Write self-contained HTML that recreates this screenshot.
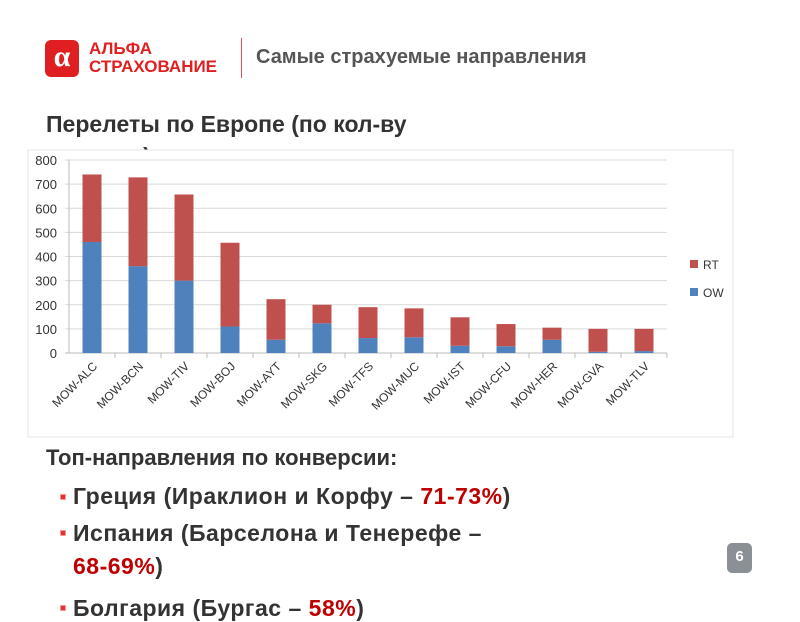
<!DOCTYPE html>
<html><head><meta charset="utf-8"><style>
body{margin:0;width:800px;height:600px;overflow:hidden;background:#fff;font-family:"Liberation Sans",sans-serif;position:relative}
.abs{position:absolute}
.txt{color:#333;font-weight:bold;white-space:nowrap}
.red{color:#c00000}
.bul{position:absolute;width:4px;height:4px;background:#d33;border:1px solid #f99}
</style></head><body>
<div class="abs" style="left:45px;top:40px">
 <div class="abs" style="left:0;top:0;width:34px;height:37px;background:#e02020;border-radius:6px;color:#fff;font:bold 30px 'Liberation Serif',serif;text-align:center;line-height:34px">α</div>
 <div class="abs" style="left:44px;top:0px;color:#e02020;font-size:17px;line-height:18px;font-weight:bold;white-space:nowrap">АЛЬФА<br>СТРАХОВАНИЕ</div>
</div>
<div class="abs" style="left:241px;top:38px;width:1px;height:40px;background:#e05050"></div>
<div class="abs txt" style="left:256px;top:46px;font-size:20px;color:#555">Самые страхуемые направления</div>
<div class="abs txt" style="left:46px;top:108px;font-size:23px;line-height:32px;white-space:normal;width:400px">Перелеты по Европе (по кол-ву полисов):</div>
<svg class="abs" style="left:0;top:0" width="800" height="600">
<rect x="28" y="150" width="705" height="287" fill="#fff" stroke="#e4e4e4"/>
<g id="g"></g>
<rect x="690" y="260" width="8" height="8" fill="#c0504d"/>
<text x="703" y="269" font-size="12" fill="#333">RT</text>
<rect x="690" y="288" width="8" height="8" fill="#4f81bd"/>
<text x="703" y="297" font-size="12" fill="#333">OW</text>
</svg>
<div class="abs txt" style="left:46px;top:445px;font-size:22px">Топ-направления по конверсии:</div>
<div class="bul" style="left:60px;top:494px"></div>
<div class="abs txt" style="left:73px;top:483px;font-size:23px;letter-spacing:0.5px">Греция (Ираклион и Корфу – <span class="red">71-73%</span>)</div>
<div class="bul" style="left:60px;top:530px"></div>
<div class="abs txt" style="left:73px;top:517px;font-size:23px;line-height:33px;letter-spacing:0.5px">Испания (Барселона и Тенерефе –<br><span class="red">68-69%</span>)</div>
<div class="bul" style="left:60px;top:605px"></div>
<div class="abs txt" style="left:73px;top:595px;font-size:23px;letter-spacing:0.5px">Болгария (Бургас – <span class="red">58%</span>)</div>
<div class="abs" style="left:727px;top:543px;width:25px;height:30px;background:#8a9096;border-radius:5px;color:#fff;font-weight:bold;font-size:15px;text-align:center;line-height:28px">6</div>
<script>
const categories=["MOW-ALC","MOW-BCN","MOW-TIV","MOW-BOJ","MOW-AYT","MOW-SKG","MOW-TFS","MOW-MUC","MOW-IST","MOW-CFU","MOW-HER","MOW-GVA","MOW-TLV"];
const owValues=[460,360,300,110,55,123,62,65,30,28,55,5,8];
const rtValues=[280,368,357,347,168,77,128,120,118,92,50,95,92];
const yTicks=[0,100,200,300,400,500,600,700,800];
const NS="http://www.w3.org/2000/svg",g=document.getElementById('g');
const x0=69,x1=667,y0=353,y1=160,step=(x1-x0)/categories.length;
const y=v=>y0-(v/800)*(y0-y1);
const xc=i=>x0+step*(i+0.5);
function mk(t,a){const e=document.createElementNS(NS,t);for(const k in a)e.setAttribute(k,a[k]);g.appendChild(e);return e;}
yTicks.forEach(v=>{
 const l=mk('line',{x1:x0-4,x2:x1,y1:y(v),y2:y(v),stroke:v?'#d9d9d9':'#bbb'});
 
 
 const t=mk('text',{x:57,y:y(v)+5,'font-size':13,fill:'#333','text-anchor':'end'});t.textContent=v;
 
 
});
mk('line',{x1:x0,x2:x0,y1:y1,y2:y0,stroke:'#bbb'});
categories.forEach((c,i)=>{
 const cx=xc(i),w=19;
 const ow=mk('rect',{x:cx-w/2,y:y(owValues[i]),width:w,height:y0-y(owValues[i]),fill:'#4f81bd'});
 
 
 const tot=owValues[i]+rtValues[i];
 const rt=mk('rect',{x:cx-w/2,y:y(tot),width:w,height:y(owValues[i])-y(tot),fill:'#c0504d'});
 
 
 mk('line',{x1:x0+step*(i+1),x2:x0+step*(i+1),y1:y0,y2:y0+5,stroke:'#bbb'});
 const t=mk('text',{x:cx+6,y:y0+14,'font-size':12,fill:'#333','text-anchor':'end',transform:`rotate(-45 ${cx+6} ${y0+14})`});
 t.textContent=c;
 
 
});
</script>
</body></html>
